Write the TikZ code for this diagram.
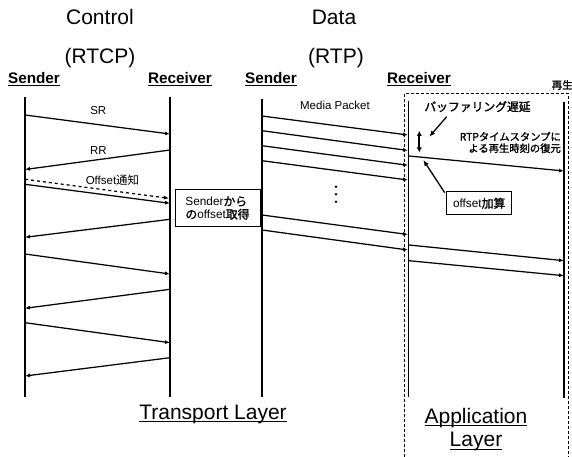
\documentclass[tikz,border=0pt]{standalone}
\usepackage{fontspec}
\setmainfont{Liberation Sans}
\newfontfamily\jp[AutoFakeBold=1.5]{Noto Sans CJK JP}
\usetikzlibrary{arrows.meta}

% underline drawn at a fixed distance below the baseline
\newcommand{\ulbox}[2][-3pt]{\leavevmode\setbox0\hbox{#2}\rlap{\rule[#1]{\wd0}{1pt}}\box0}

\begin{document}
\begin{tikzpicture}[x=1pt,y=-1pt,
  life/.style={line width=1.5pt},
  msg/.style={line width=1.25pt,-{Latex[length=5pt,width=4pt]}},
  pointer/.style={line width=1.3pt,-{Latex[length=6pt,width=5pt]}},
  title/.style={font=\fontsize{21}{24}\selectfont,anchor=base,inner sep=0},
  role/.style={font=\fontsize{15.3}{18}\selectfont\bfseries,anchor=base,inner sep=0},
  small/.style={font=\fontsize{11.5}{13}\selectfont,anchor=base,inner sep=0},
  note/.style={draw,line width=1pt,inner sep=0,font=\fontsize{11.8}{14}\selectfont},
  layer/.style={font=\fontsize{21}{23.4}\selectfont,anchor=base,inner sep=0}
]
\useasboundingbox (0,0) rectangle (572,457);

% headings
\node[title] (ctl) at (100,25) {Control};
\node[title] (rtcp) at (100,63.3) {(RTCP)};
\node[title] (dat) at (334,25) {Data};
\node[title] (rtp) at (336,63.3) {(RTP)};

\node[role] (hcs) at (34,83.3) {\ulbox{Sender}};
\node[role] (hcr) at (180,83.3) {\ulbox{Receiver}};
\node[role] (hds) at (271,83.3) {\ulbox{Sender}};
\node[role] (hdr) at (419,83.3) {\ulbox{Receiver}};
\node[anchor=west,inner sep=0,font=\fontsize{10.5}{12}\selectfont\jp\bfseries] (hplay) at (551.5,85) {再生};

% application layer frame (open at the bottom edge)
\draw[line width=0.9pt,dash pattern=on 3pt off 2pt] (404,457) -- (404,93.5) -- (568,93.5) -- (568,457);

% lifelines
\coordinate (csT) at (25,97);   \coordinate (csB) at (25,396.7);
\coordinate (crT) at (170,97);  \coordinate (crB) at (170,396.7);
\coordinate (dsT) at (262,99);  \coordinate (dsB) at (262,396.7);
\coordinate (drT) at (408.5,101); \coordinate (drB) at (408.5,396.7);
\coordinate (pbT) at (564,102); \coordinate (pbB) at (564,398);
\draw[life] (csT) -- (csB);
\draw[life] (crT) -- (crB);
\draw[life] (dsT) -- (dsB);
\draw[life] (drT) -- (drB);
\draw[line width=1.8pt] (pbT) -- (pbB);

% control messages
\coordinate (c1a) at (25,115);    \coordinate (c1b) at (170,134);
\coordinate (c2a) at (170,150);   \coordinate (c2b) at (25,169.5);
\coordinate (c3a) at (25,179.3);  \coordinate (c3b) at (169,198.3);
\coordinate (c4a) at (25,184.3);  \coordinate (c4b) at (170,203.3);
\coordinate (c5a) at (170,219.3); \coordinate (c5b) at (25,237.3);
\coordinate (c6a) at (25,254);    \coordinate (c6b) at (170,274);
\coordinate (c7a) at (170,289.3); \coordinate (c7b) at (25,308.3);
\coordinate (c8a) at (25,322.7);  \coordinate (c8b) at (170,342.7);
\coordinate (c9a) at (170,357.7); \coordinate (c9b) at (25,376);
\draw[msg] (c1a) -- (c1b);
\draw[msg] (c2a) -- (c2b);
\draw[msg,dashed] (c3a) -- (c3b);
\draw[msg] (c4a) -- (c4b);
\draw[msg] (c5a) -- (c5b);
\draw[msg] (c6a) -- (c6b);
\draw[msg] (c7a) -- (c7b);
\draw[msg] (c8a) -- (c8b);
\draw[msg] (c9a) -- (c9b);
\node[small] (lsr) at (98.3,115) {SR};
\node[small] (lrr) at (98.5,154) {RR};
\node[small] (loff) at (112.5,184) {Offset{\jp 通知}};

\node[note,minimum width=85pt,minimum height=37.4pt,align=left] (getoff) at (217.5,208)
  {Sender{\jp\bfseries から}\\[-1pt]{\jp\bfseries の}offset{\jp\bfseries 取得}};

% media packets
\coordinate (d1a) at (262,116);   \coordinate (d1b) at (408,135);
\coordinate (d2a) at (262,130.7); \coordinate (d2b) at (408,150.5);
\coordinate (d3a) at (262,145.7); \coordinate (d3b) at (408,165.3);
\coordinate (d4a) at (262,160.7); \coordinate (d4b) at (408,180);
\coordinate (d5a) at (262,215);   \coordinate (d5b) at (408,234.5);
\coordinate (d6a) at (262,230);   \coordinate (d6b) at (408,250);
\foreach \i in {1,...,6} \draw[msg] (d\i a) -- (d\i b);
\node[small] (lmp) at (335,110) {Media Packet};
\foreach \y in {186.7,194.2,201.7} \fill (336,\y) circle (1.4pt);

% playback
\coordinate (p1a) at (409,156);   \coordinate (p1b) at (564,171);
\coordinate (p2a) at (409,245);   \coordinate (p2b) at (564,260.7);
\coordinate (p3a) at (409,260.7); \coordinate (p3b) at (564,275.7);
\foreach \i in {1,2,3} \draw[msg] (p\i a) -- (p\i b);

% buffering delay
\coordinate (bufT) at (419.3,131); \coordinate (bufB) at (419.3,152.3);
\draw[line width=1.9pt,{Latex[length=5pt,width=5.5pt]}-{Latex[length=5pt,width=5.5pt]}] (bufT) -- (bufB);
\node[inner sep=0,font=\fontsize{11.8}{14}\selectfont\jp\bfseries] (lbuf) at (477.5,106.7) {バッファリング遅延};
\coordinate (bufFrom) at (446.7,116.7);
\coordinate (bufTo) at (429.3,136.7);
\draw[pointer] (bufFrom) -- (bufTo);

\node[inner sep=0,anchor=east,align=right,font=\fontsize{10.3}{11.6}\selectfont\jp\bfseries] (lrtp) at (561,142.5)
  {RTPタイムスタンプに\\よる再生時刻の復元};

\node[note,minimum width=65pt,minimum height=23.3pt] (addoff) at (479.2,203.3) {offset{\jp\bfseries 加算}};
\coordinate (offTo) at (423.3,160);
\draw[pointer] (addoff.north west) ++(-1.5,1.5) -- (offTo);

% layer captions
\node[layer] (ltr) at (213,419.3) {\ulbox{Transport Layer}};
\node[layer] (lapp1) at (476,423.3) {\ulbox{Application}};
\node[layer] (lapp2) at (476,446.7) {\ulbox{Layer}};
\end{tikzpicture}
\end{document}
